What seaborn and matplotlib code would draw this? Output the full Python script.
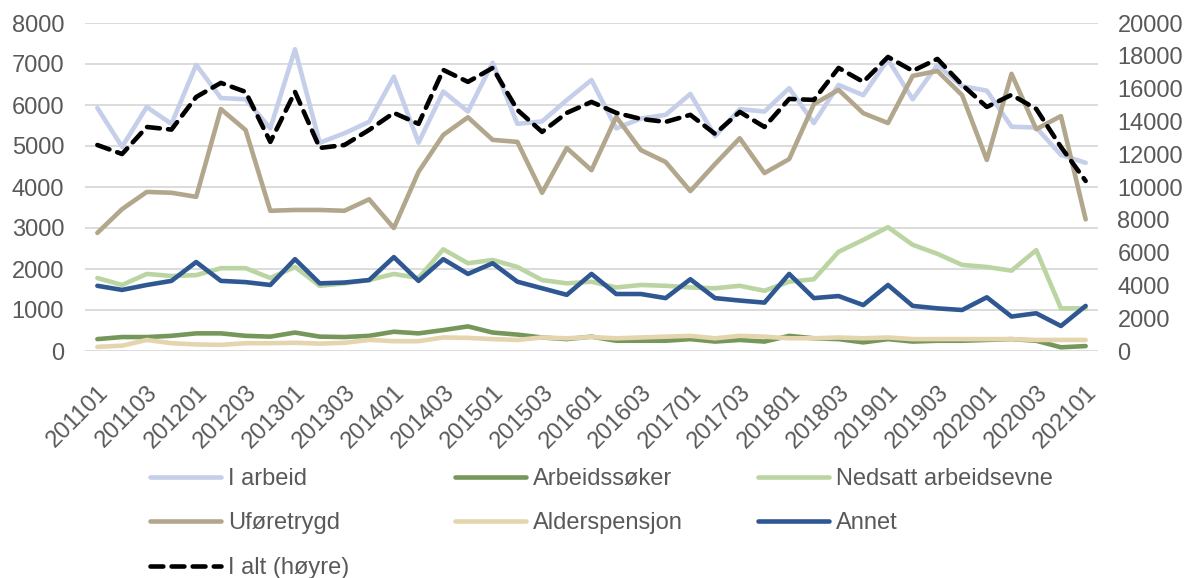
import numpy as np
import pandas as pd
import seaborn as sns
from matplotlib import pyplot as plt

sns.set_theme(style="white")
plt.rcParams["font.family"] = ["Liberation Sans", "DejaVu Sans"]
plt.rcParams["text.color"] = "#595959"

periods = ["201101", "201102", "201103", "201104", "201201", "201202", "201203", "201204",
           "201301", "201302", "201303", "201304", "201401", "201402", "201403", "201404",
           "201501", "201502", "201503", "201504", "201601", "201602", "201603", "201604",
           "201701", "201702", "201703", "201704", "201801", "201802", "201803", "201804",
           "201901", "201902", "201903", "201904", "202001", "202002", "202003", "202004",
           "202101"]

i_arbeid = [5930, 4980, 5950, 5540, 6980, 6170, 6140, 5430, 7360, 5080, 5310, 5590, 6690, 5080,
            6330, 5840, 7030, 5540, 5600, 6120, 6610, 5430, 5670, 5760, 6270, 5240, 5900, 5840,
            6410, 5560, 6490, 6240, 7110, 6140, 6980, 6460, 6350, 5470, 5450, 4780, 4590]
arbeidssoker = [290, 340, 340, 370, 430, 430, 370, 350, 450, 350, 340, 370, 470, 430, 510, 600,
                450, 400, 330, 290, 350, 250, 250, 250, 290, 230, 270, 230, 370, 310, 290, 210,
                290, 230, 250, 250, 270, 290, 250, 90, 120]
nedsatt = [1780, 1610, 1880, 1830, 1850, 2020, 2020, 1780, 2050, 1590, 1650, 1730, 1880, 1780,
           2480, 2140, 2220, 2050, 1730, 1650, 1690, 1550, 1610, 1590, 1550, 1530, 1590, 1470,
           1690, 1750, 2420, 2710, 3020, 2590, 2370, 2100, 2050, 1960, 2460, 1040, 1040]
uforetrygd = [2880, 3460, 3880, 3860, 3760, 5900, 5390, 3420, 3440, 3440, 3420, 3700, 3000, 4370,
              5270, 5700, 5150, 5100, 3860, 4950, 4410, 5710, 4900, 4610, 3900, 4560, 5190, 4340,
              4680, 6020, 6370, 5800, 5560, 6710, 6830, 6240, 4660, 6760, 5410, 5730, 3210]
alderspensjon = [100, 130, 270, 190, 160, 150, 190, 190, 200, 180, 200, 270, 240, 240, 330, 320,
                 290, 270, 330, 310, 340, 310, 330, 350, 370, 310, 370, 350, 310, 310, 330, 310,
                 330, 290, 290, 290, 290, 290, 270, 270, 270]
annet = [1590, 1490, 1610, 1710, 2170, 1710, 1680, 1610, 2240, 1650, 1670, 1730, 2290, 1710,
         2240, 1880, 2140, 1690, 1530, 1370, 1880, 1390, 1390, 1290, 1750, 1290, 1230, 1180,
         1880, 1290, 1340, 1120, 1610, 1100, 1040, 1000, 1310, 840, 920, 610, 1100]
i_alt = [12560, 12010, 13660, 13500, 15490, 16350, 15800, 12750, 15800, 12380, 12560, 13480,
         14520, 13850, 17140, 16410, 17260, 14700, 13360, 14520, 15190, 14520, 14150, 13970,
         14400, 13240, 14580, 13660, 15370, 15310, 17260, 16410, 17930, 17080, 17810, 16230,
         14880, 15620, 14760, 12440, 10370]

series = {
    "I arbeid": (i_arbeid, "#C5CFEA"),
    "Arbeidssøker": (arbeidssoker, "#76975A"),
    "Nedsatt arbeidsevne": (nedsatt, "#BBD5A2"),
    "Uføretrygd": (uforetrygd, "#B2A78C"),
    "Alderspensjon": (alderspensjon, "#E5D5AE"),
    "Annet": (annet, "#2F5892"),
}

x = np.arange(len(periods))
fig = plt.figure(figsize=(11.89, 5.78), dpi=100)
ax = fig.add_axes([85 / 1189, 1 - 351 / 578, (1098 - 85) / 1189, 328 / 578])

for name, (vals, col) in series.items():
    df = pd.DataFrame({"x": x, "y": vals})
    sns.lineplot(data=df, x="x", y="y", ax=ax, color=col, lw=3.3, label=name,
                 legend=False, solid_capstyle="round")

ax2 = ax.twinx()
df_alt = pd.DataFrame({"x": x, "y": i_alt})
sns.lineplot(data=df_alt, x="x", y="y", ax=ax2, color="black", lw=3.3, label="I alt (høyre)",
             legend=False)
ax2.lines[0].set_dashes((2.8, 1.8))
ax2.lines[0].set_dash_capstyle("round")

ax.set_xlim(-0.5, len(periods) - 0.5)
ax.set_ylim(0, 8000)
ax2.set_ylim(0, 20000)
ax.set_yticks(range(0, 8001, 1000))
ax2.set_yticks(range(0, 20001, 2000))
ax.set_xticks(x[::2])
ax.set_xticklabels(periods[::2], rotation=45, ha="right", rotation_mode="anchor")
ax.set_xlabel("")
ax.set_ylabel("")
ax2.set_ylabel("")
ax.grid(axis="y", color="#D9D9D9", lw=1.3)
for a in (ax, ax2):
    for s in a.spines.values():
        s.set_visible(False)
    a.tick_params(length=0, labelsize=17, colors="#595959")
ax.tick_params(axis="y", pad=15)
ax2.tick_params(axis="y", pad=14)
ax.tick_params(axis="x", pad=22)

handles = {l.get_label(): l for l in ax.get_lines() + ax2.get_lines()}
columns = [
    (["I arbeid", "Uføretrygd", "I alt (høyre)"], 150),
    (["Arbeidssøker", "Alderspensjon"], 455),
    (["Nedsatt arbeidsevne", "Annet"], 758),
]
for names, xpos in columns:
    fig.legend([handles[n] for n in names], names, loc="upper left",
               bbox_to_anchor=(xpos / 1189, 1 - 468 / 578), frameon=False,
               fontsize=17, handlelength=3.0, handletextpad=0.3, labelspacing=0.95,
               borderpad=0, borderaxespad=0, labelcolor="#595959")

fig.savefig("out.png", dpi=100)
